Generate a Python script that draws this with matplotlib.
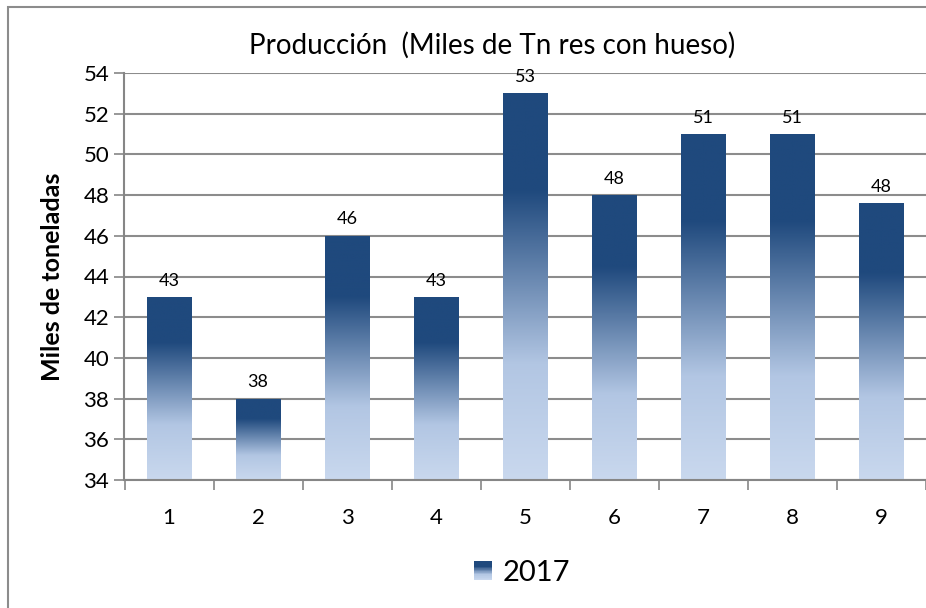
import numpy as np
import matplotlib
matplotlib.use('Agg')
import matplotlib.pyplot as plt
from matplotlib.colors import LinearSegmentedColormap
from matplotlib.patches import Rectangle
from matplotlib.legend_handler import HandlerBase

plt.rcParams['font.family'] = ['Lato', 'DejaVu Sans']

categories = ['1', '2', '3', '4', '5', '6', '7', '8', '9']
values = [43, 38, 46, 43, 53, 48, 51, 51, 47.6]
labels = ['43', '38', '46', '43', '53', '48', '51', '51', '48']
series_name = '2017'

# gradient: 0 = bottom of bar, 1 = top
cmap = LinearSegmentedColormap.from_list('grad', [
    (0.0, '#C9D8EE'), (0.3, '#B2C6E3'), (0.75, '#1F497D'), (1.0, '#1F497D')])

W, H = 926, 608
fig = plt.figure(figsize=(W / 100, H / 100), dpi=100)
ax = fig.add_axes([124.5 / W, 1 - 480 / H, (925.5 - 124.5) / W, (480 - 73) / H])

ymin, ymax = 34, 54
x = np.arange(len(categories))
bars = ax.bar(x, [v - ymin for v in values], bottom=ymin, width=0.5,
              color='none', edgecolor='none')

grad = np.linspace(0, 1, 256).reshape(-1, 1)
for b in bars:
    x0, w = b.get_x(), b.get_width()
    y0, h = b.get_y(), b.get_height()
    im = ax.imshow(grad, cmap=cmap, origin='lower', aspect='auto',
                   extent=[x0, x0 + w, y0, y0 + h], zorder=2)
    im.set_clip_path(b)

for xi, v, lab in zip(x, values, labels):
    ax.annotate(lab, (xi, v), xytext=(0, 6), textcoords='offset points',
                ha='center', va='bottom', fontsize=13)

ax.set_xlim(-0.5, len(categories) - 0.5)
ax.set_ylim(ymin, ymax)
ax.set_yticks(range(34, 55, 2))
ax.set_xticks(x)
ax.set_xticklabels(categories)
ax.set_xticks(np.arange(-0.5, len(categories), 1), minor=True)
ax.tick_params(axis='x', which='major', length=0, pad=20, labelsize=16)
ax.tick_params(axis='x', which='minor', length=7, color='#868686', width=1.2)
ax.tick_params(axis='y', length=7, color='#868686', width=1.2, labelsize=16, pad=4)
ax.grid(axis='y', color='#8c8c8c', linewidth=1.5, zorder=0)
ax.set_axisbelow(True)
for s in ['top', 'right']:
    ax.spines[s].set_visible(False)
for s in ['left', 'bottom']:
    ax.spines[s].set_color('#868686')
    ax.spines[s].set_linewidth(1.5)

ax.set_ylabel('Miles de toneladas', fontsize=18, fontweight='bold', labelpad=14)
fig.text(492 / W, 1 - 45 / H, 'Producción  (Miles de Tn res con hueso)',
         ha='center', va='center', fontsize=20)


class GradHandler(HandlerBase):
    def create_artists(self, legend, orig_handle, xdescent, ydescent,
                       width, height, fontsize, trans):
        n = 30
        s = height * 0.9
        x0 = -xdescent + width - s
        y0 = -ydescent + (height - s) / 2
        arts = []
        for i in range(n):
            r = Rectangle((x0, y0 + s * i / n), s, s / n + 0.3,
                          facecolor=cmap(i / (n - 1)), edgecolor='none',
                          transform=trans)
            arts.append(r)
        return arts


handle = Rectangle((0, 0), 1, 1)
fig.legend([handle], [series_name], handler_map={Rectangle: GradHandler()},
           loc='center', bbox_to_anchor=(521 / W, 1 - 573 / H), frameon=False,
           fontsize=21, handlelength=0.7, handletextpad=0.35)

fig.add_artist(Rectangle((8 / W, -0.1), 1.2, 1 - 7 / H + 0.1,
                         transform=fig.transFigure, facecolor='none',
                         edgecolor='#8c8c8c', linewidth=1.5))

fig.savefig('out.png', dpi=100)
